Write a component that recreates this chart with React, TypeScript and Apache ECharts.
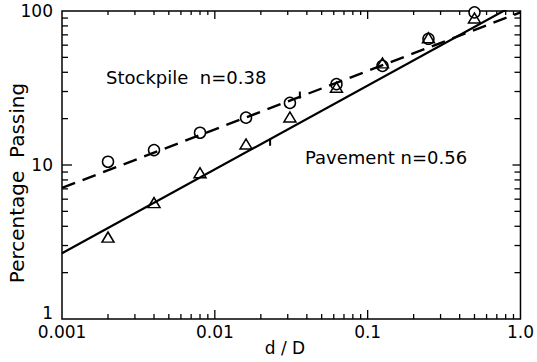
import React, { useEffect, useRef } from "react";
import * as echarts from "echarts";

// d/D sizes (log scale)
const sizes = [0.002, 0.004, 0.008, 0.016, 0.031, 0.0625, 0.125, 0.25, 0.5];
// Percentage passing
const stockpile = [10.5, 12.5, 16.2, 20.3, 25.3, 33.5, 44, 66, 98];
const pavement = [3.4, 5.7, 8.9, 13.7, 20.5, 32, 46, 67, 90];

// Fitted power-law lines (end points)
const stockpileFit = [
  [0.001, 7.1],
  [1, 98],
];
const pavementFit = [
  [0.001, 2.67],
  [1, 115],
];
// small marks on the fit lines
const stockpileMark = [[0.036, 27.0]];
const pavementMark = [[0.023, 14.8]];

// axis ticks
const xDecades = [0.001, 0.01, 0.1];
const yDecades = [1, 10];
const minorMultipliers = [2, 3, 4, 5, 6, 7, 8, 9];
const xTickLabels = ["0.001", "0.01", "0.1", "1.0"];
const yTickLabels = ["1", "10", "100"];

const annotations = [
  { text: "Stockpile  n=0.38", x: 106, y: 77 },
  { text: "Pavement n=0.56", x: 305, y: 157 },
];

const FONT = "DejaVu Sans";

export default function App() {
  const ref = useRef<HTMLDivElement>(null);
  useEffect(() => {
    if (!ref.current) return;
    const chart = echarts.init(ref.current, null, { renderer: "svg" });

    const xTickData: number[][] = [];
    xDecades.forEach((d, i) => {
      minorMultipliers.forEach((m) => xTickData.push([d * m, 10, 0]));
      if (i > 0) xTickData.push([d, 10, 1]);
    });
    const yTickData: number[][] = [];
    yDecades.forEach((d, i) => {
      minorMultipliers.forEach((m) => yTickData.push([0.01, d * m, 0]));
      if (i > 0) yTickData.push([0.01, d, 1]);
    });

    const stroke = { stroke: "#000", lineWidth: 1.3 };

    chart.setOption({
      animation: false,
      backgroundColor: "#fff",
      grid: {
        left: 62,
        top: 11,
        right: 13,
        bottom: 43,
        show: true,
        borderColor: "#000",
        borderWidth: 1.5,
        backgroundColor: "transparent",
      },
      xAxis: {
        type: "log",
        logBase: 10,
        min: 0.001,
        max: 1,
        axisLine: { show: false },
        axisTick: { show: false },
        splitLine: { show: false },
        axisLabel: {
          margin: 4,
          color: "#000",
          fontFamily: FONT,
          fontSize: 17,
          formatter: (v: number) =>
            xTickLabels[Math.round(Math.log10(v)) + 3] ?? "",
        },
      },
      yAxis: {
        type: "log",
        logBase: 10,
        min: 1,
        max: 100,
        axisLine: { show: false },
        axisTick: { show: false },
        splitLine: { show: false },
        axisLabel: {
          margin: 9,
          color: "#000",
          fontFamily: FONT,
          fontSize: 17,
          formatter: (v: number) => {
            const i = Math.round(Math.log10(v));
            const t = yTickLabels[i] ?? "";
            return i === 0 ? "{raise|" + t + "}" : t;
          },
          rich: {
            raise: {
              fontFamily: FONT,
              fontSize: 17,
              color: "#000",
              padding: [0, 0, 12, 0],
            },
          },
        },
      },
      graphic: [
        {
          type: "text",
          x: 17,
          y: 183,
          rotation: Math.PI / 2,
          style: {
            text: "Percentage  Passing",
            fontFamily: FONT,
            fontSize: 20,
            fill: "#000",
            align: "center",
            verticalAlign: "middle",
          },
        },
        {
          type: "text",
          x: 285,
          y: 348,
          style: {
            text: "d / D",
            fontFamily: FONT,
            fontSize: 17,
            fill: "#000",
            align: "center",
            verticalAlign: "middle",
          },
        },
        ...annotations.map((a) => ({
          type: "text",
          x: a.x,
          y: a.y,
          style: {
            text: a.text,
            fontFamily: FONT,
            fontSize: 18,
            fill: "#000",
            align: "left",
            verticalAlign: "middle",
          },
        })),
      ],
      series: [
        {
          type: "custom",
          silent: true,
          data: xTickData,
          renderItem: (params: any, api: any) => {
            const p = api.coord([api.value(0), 10]);
            const cs = params.coordSys;
            const major = api.value(2) === 1;
            const lb = major ? 9 : 5;
            const lt = major ? 8 : 4;
            const bottom = cs.y + cs.height;
            return {
              type: "group",
              children: [
                { type: "line", shape: { x1: p[0], y1: bottom, x2: p[0], y2: bottom - lb }, style: stroke },
                { type: "line", shape: { x1: p[0], y1: cs.y, x2: p[0], y2: cs.y + lt }, style: stroke },
              ],
            };
          },
        },
        {
          type: "custom",
          silent: true,
          data: yTickData,
          renderItem: (params: any, api: any) => {
            const p = api.coord([0.01, api.value(1)]);
            const cs = params.coordSys;
            const major = api.value(2) === 1;
            const ll = major ? 10 : 6;
            const lr = major ? 8 : 6;
            const right = cs.x + cs.width;
            return {
              type: "group",
              children: [
                { type: "line", shape: { x1: cs.x, y1: p[1], x2: cs.x + ll, y2: p[1] }, style: stroke },
                { type: "line", shape: { x1: right, y1: p[1], x2: right - lr, y2: p[1] }, style: stroke },
              ],
            };
          },
        },
        {
          name: "Stockpile fit",
          type: "line",
          data: stockpileFit,
          showSymbol: false,
          clip: true,
          lineStyle: { color: "#000", width: 2.4, type: [14, 8] },
        },
        {
          name: "Pavement fit",
          type: "line",
          data: pavementFit,
          showSymbol: false,
          clip: true,
          lineStyle: { color: "#000", width: 2.2, type: "solid" },
        },
        {
          type: "custom",
          silent: true,
          z: 5,
          data: [...stockpileMark.map((d) => [...d, -1]), ...pavementMark.map((d) => [...d, 1])],
          renderItem: (params: any, api: any) => {
            const p = api.coord([api.value(0), api.value(1)]);
            const dir = api.value(2);
            return {
              type: "line",
              shape: { x1: p[0], y1: p[1], x2: p[0], y2: p[1] + dir * 7 },
              style: { stroke: "#000", lineWidth: 2 },
            };
          },
        },
        {
          name: "Stockpile",
          type: "scatter",
          data: sizes.map((x, i) => [x, stockpile[i]]),
          symbol: "circle",
          symbolSize: 11,
          itemStyle: { color: "#fff", borderColor: "#000", borderWidth: 1.5, opacity: 1 },
        },
        {
          name: "Pavement",
          type: "scatter",
          data: sizes.map((x, i) => [x, pavement[i]]),
          symbol: "triangle",
          symbolSize: [12, 10],
          itemStyle: { color: "rgba(255,255,255,0)", borderColor: "#000", borderWidth: 1.5, opacity: 1 },
        },
      ],
    });
    return () => chart.dispose();
  }, []);
  return (
    <div
      ref={ref}
      style={{ position: "fixed", left: 0, top: 0, width: 537, height: 362 }}
    />
  );
}
